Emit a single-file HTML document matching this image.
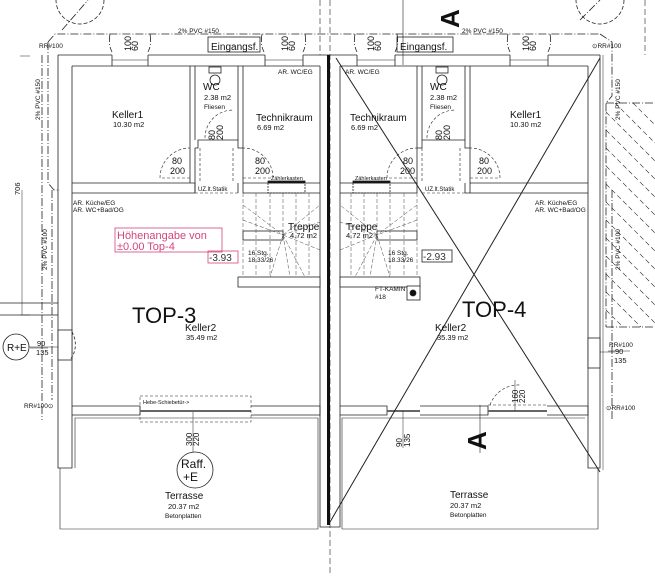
<!DOCTYPE html>
<html><head><meta charset="utf-8"><style>
html,body{margin:0;padding:0;background:#fff;}
svg{display:block;}
text{font-family:"Liberation Sans",sans-serif;fill:#111;}
.s{font-size:6.5px;}
.m{font-size:7.5px;}
.b{font-size:10px;}
</style></head><body>
<svg width="655" height="576" viewBox="0 0 655 576" xmlns="http://www.w3.org/2000/svg">
<rect width="655" height="576" fill="#fff"/>
<g fill="none" stroke="#222" stroke-width="0.8">
<g stroke-dasharray="8,2,1,2" stroke-width="0.8">
<path d="M48,42 L55,34 L600,34"/>
<path d="M48,42 L48,183 L54,190 L60,190"/>
<path d="M52,190 L52,400"/>
<path d="M600,34 L612,42 L612,96 L606,103 L606,327"/>
<path d="M606,103 L655,103"/><path d="M606,327 L655,327"/>
<path d="M612,190 L612,420"/>
<path d="M42,55 L42,420"/>
<path d="M110,34 Q108,44 112,52"/><path d="M150,34 Q152,44 148,52"/>
<path d="M262,34 Q260,44 264,52"/><path d="M305,34 Q307,44 303,52"/>
<path d="M355,34 Q353,44 357,52"/><path d="M397,34 Q399,44 395,52"/>
<path d="M508,34 Q506,44 510,52"/><path d="M550,34 Q552,44 548,52"/>
<path d="M62,30 L88,0"/><path d="M580,20 L600,0"/>
</g>
<circle cx="80" cy="0" r="24" stroke-dasharray="4,2"/>
<circle cx="600" cy="0" r="24" stroke-dasharray="4,2"/>
<g stroke-dasharray="5,3" stroke-width="0.6">
<path d="M615,103 L655,143"/><path d="M633,103 L655,125"/><path d="M606,112 L655,161"/>
<path d="M606,130 L655,179"/><path d="M606,148 L655,197"/><path d="M606,166 L655,215"/>
<path d="M606,184 L655,233"/><path d="M606,202 L655,251"/><path d="M606,220 L655,269"/>
<path d="M606,238 L655,287"/><path d="M606,256 L655,305"/><path d="M606,274 L655,323"/>
<path d="M606,292 L641,327"/><path d="M606,310 L623,327"/>
</g>
<path d="M330,0 L330,576" stroke-dasharray="6,3" stroke-width="0.6"/>
<path d="M320,0 L320,55" stroke-dasharray="6,3" stroke-width="0.6"/>
<path d="M645,0 L645,55" stroke-dasharray="6,3" stroke-width="0.6"/>
<path d="M403,0 L403,65" stroke-width="0.6"/>
<path d="M480,405 L480,453" stroke-width="0.6"/>
<path d="M58,55 L58,468 L72,468 L72,66"/>
<path d="M58,55 L112,55 M148,55 L265,55 M303,55 L357,55 M395,55 L510,55 M548,55 L600,55"/>
<path d="M72,66 L320,66 M340,66 L588,66"/>
<path d="M112,55 L112,66 M148,55 L148,66 M265,55 L265,66 M303,55 L303,66 M357,55 L357,66 M395,55 L395,66 M510,55 L510,66 M548,55 L548,66"/>
<path d="M112,60 L148,60 M265,60 L303,60 M357,60 L395,60 M510,60 L548,60" stroke-width="0.5"/>
<path d="M600,55 L600,468 L588,468 L588,66"/>
<path d="M603,55 L603,470" stroke-width="0.5"/>
<path d="M320,66 L320,527 L340,527 L340,66"/>
<rect x="327" y="55" width="3" height="470" fill="#111" stroke="none"/>
<rect x="58" y="330" width="14" height="30" fill="#fff" stroke="#222"/>
<path d="M72,332 A25,25 0 0 1 70,360" stroke-dasharray="3,2"/>
<rect x="588" y="338" width="12" height="30" fill="#fff" stroke="#222"/>
<path d="M0,303 L58,303 M0,315 L58,315"/>
<path d="M22,190 L22,315" stroke-width="0.5"/>
<path d="M20,56 L30,56 M20,315 L30,315" stroke-width="0.5"/>
<path d="M72,183 L190,183 L190,66 M72,193 L195,193 L195,148 L198,148 L198,140 L238,140 L238,148 L243,148 L243,183 L320,183 M243,193 L320,193 M190,183 L195,183"/>
<path d="M195,66 L195,140 M238,66 L238,140 M243,66 L243,148"/>
<path d="M340,183 L417,183 L417,148 L422,148 L422,140 L465,140 L465,148 L470,148 L470,183 L588,183 M340,193 L417,193 M465,193 L588,193 M470,66 L470,183 M422,66 L422,140 M465,66 L465,140 M417,66 L417,148"/>
<path d="M465,183 L465,193 M470,183 L470,193 M417,183 L417,193 M195,183 L195,193 M238,183 L238,193 M243,183 L243,193"/>
<path d="M195,193 L238,193 M422,193 L465,193" stroke-dasharray="3,2" stroke-width="0.5"/>
<g stroke-dasharray="3,2" stroke-width="0.6">
<path d="M190,178 L160,178 A30,30 0 0 1 190,148"/>
<path d="M243,178 L273,178 A30,30 0 0 0 243,148"/>
<path d="M205,138 A28,28 0 0 1 233,110"/>
<path d="M417,178 L387,178 A30,30 0 0 1 417,148"/>
<path d="M470,178 L500,178 A30,30 0 0 0 470,148"/>
<path d="M427,138 A28,28 0 0 1 455,110"/>
<path d="M490,405 A30,30 0 0 1 520,385"/>
<path d="M200,148 L200,183 M233,148 L233,183 M422,148 L422,183 M460,148 L460,183"/>
</g>
<rect x="268" y="182" width="37" height="11" stroke-dasharray="2,1"/>
<rect x="268" y="181" width="37" height="2" fill="#111"/>
<rect x="353" y="182" width="37" height="11" stroke-dasharray="2,1"/>
<rect x="353" y="181" width="37" height="2" fill="#111"/>
<circle cx="215" cy="80" r="5"/><rect x="209" y="67" width="12" height="6"/>
<circle cx="442" cy="80" r="5"/><rect x="436" y="67" width="12" height="6"/>
<rect x="243" y="231" width="40" height="9" fill="#fff"/>
<rect x="238" y="277" width="82" height="10" fill="#fff"/>
<rect x="377" y="231" width="40" height="9" fill="#fff"/>
<rect x="340" y="277" width="80" height="10" fill="#fff"/>
<rect x="407" y="286" width="13" height="14" fill="#fff"/>
<circle cx="413" cy="293" r="3" fill="#111"/>
<g stroke-dasharray="4,2" stroke-width="0.5" stroke="#444">
<path d="M243,193 L243,277 M256,193 L256,277 M270,193 L270,277 M283,193 L283,231 M296,193 L296,277 M309,193 L309,277"/>
<path d="M243,205 L283,235 M243,220 L283,235 M283,235 L320,205 M283,235 L320,222 M283,235 L320,250 M283,235 L305,277 M283,235 L290,277 M283,235 L270,277"/>
<path d="M417,193 L417,277 M404,193 L404,277 M390,193 L390,277 M377,193 L377,231 M364,193 L364,277 M351,193 L351,277"/>
<path d="M417,205 L377,235 M417,220 L377,235 M377,235 L340,205 M377,235 L340,222 M377,235 L340,250 M377,235 L355,277 M377,235 L370,277 M377,235 L390,277"/>
</g>
<path d="M72,406 L140,406 L140,415 L72,415 M251,406 L320,406 L320,415 L251,415"/>
<path d="M140,411 L251,411" stroke="#666" stroke-width="2"/>
<path d="M140,396 L251,396 L251,422 L140,422 Z" stroke-dasharray="3,2" stroke-width="0.5"/>
<path d="M340,406 L387,406 L387,415 L340,415 M420,406 L488,406 L488,415 L420,415 M547,406 L588,406 L588,415 L547,415"/>
<path d="M387,411 L420,411 M488,411 L547,411" stroke="#666" stroke-width="2"/>
<path d="M488,405 L547,405" stroke-dasharray="3,2" stroke-width="0.5"/>
<path d="M60,468 L60,529 L318,529 L318,418 L75,418 L75,468" stroke-width="0.6"/>
<path d="M342,529 L598,529 L598,468 M342,529 L342,418 L585,418" stroke-width="0.6"/>
<path d="M336,58 L600,472" stroke-width="1"/>
<path d="M600,58 L330,522" stroke-width="1"/>
<path d="M193,412 L193,452 M515,380 L515,411 M403,411 L403,448" stroke-width="0.5"/>
<circle cx="16" cy="347" r="13"/>
<circle cx="195" cy="470" r="18"/>
<path d="M29,347 L58,347 M600,352 L615,352" stroke-width="0.5"/>
<path d="M30,348 L48,348 M608,351 L630,351" stroke-width="0.5"/>
<rect x="115" y="228" width="107" height="24" stroke="#d4457a"/>
<rect x="208" y="251" width="30" height="12" stroke="#d4457a"/>
<rect x="422" y="250" width="30" height="12"/>
<rect x="208" y="37" width="52" height="15"/>
<rect x="397" y="37" width="56" height="15"/>
</g>
<text x="39" y="48" class="s">RR#100</text>
<text x="592" y="48" class="s">⊙RR#100</text>
<text x="178" y="33" class="s">2% PVC #150</text>
<text x="462" y="33" class="s">2% PVC #150</text>
<text x="211" y="50" style="font-size:10px">Eingangsf.</text>
<text x="400" y="50" style="font-size:10px">Eingangsf.</text>
<g style="font-size:9px">
<text transform="translate(131,51) rotate(-90)">100</text><text transform="translate(138,51) rotate(-90)">60</text>
<text transform="translate(288,51) rotate(-90)">100</text><text transform="translate(295,51) rotate(-90)">60</text>
<text transform="translate(374,51) rotate(-90)">100</text><text transform="translate(381,51) rotate(-90)">60</text>
<text transform="translate(529,51) rotate(-90)">100</text><text transform="translate(536,51) rotate(-90)">60</text>
</g>
<text transform="translate(20,195) rotate(-90)" class="m">706</text>
<text transform="translate(40,120) rotate(-90)" class="s">2% PVC #150</text>
<text transform="translate(47,270) rotate(-90)" class="s">2% PVC #100</text>
<text transform="translate(620,120) rotate(-90)" class="s">2% PVC #150</text>
<text transform="translate(620,270) rotate(-90)" class="s">2% PVC #100</text>
<text x="112" y="118" class="b">Keller1</text><text x="113" y="127" class="m">10.30 m2</text>
<text x="203" y="90" class="b">WC</text><text x="204" y="100" class="m">2.38 m2</text><text x="204" y="109" class="s">Fliesen</text>
<text x="256" y="121" class="b">Technikraum</text><text x="257" y="130" class="m">6.69 m2</text>
<text x="278" y="74" class="s">AR. WC/EG</text>
<text x="345" y="74" class="s">AR. WC/EG</text>
<text x="350" y="121" class="b">Technikraum</text><text x="351" y="130" class="m">6.69 m2</text>
<text x="430" y="90" class="b">WC</text><text x="430" y="100" class="m">2.38 m2</text><text x="430" y="109" class="s">Fliesen</text>
<text x="510" y="118" class="b">Keller1</text><text x="510" y="127" class="m">10.30 m2</text>
<g style="font-size:9px">
<text x="172" y="164">80</text><text x="170" y="174">200</text>
<text x="255" y="164">80</text><text x="255" y="174">200</text>
<text x="403" y="164">80</text><text x="400" y="174">200</text>
<text x="479" y="164">80</text><text x="477" y="174">200</text>
<text transform="translate(215,140) rotate(-90)">80</text><text transform="translate(223,140) rotate(-90)">200</text>
<text transform="translate(442,140) rotate(-90)">80</text><text transform="translate(450,140) rotate(-90)">200</text>
</g>
<text x="198" y="191" style="font-size:6px">UZ.lt.Statik</text>
<text x="425" y="191" style="font-size:6px">UZ.lt.Statik</text>
<text x="271" y="180" style="font-size:5.5px">Zählerkasten</text>
<text x="355" y="180" style="font-size:5.5px">Zählerkasten</text>
<text x="73" y="205" class="s">AR. Küche/EG</text><text x="73" y="212" class="s">AR. WC+Bad/OG</text>
<text x="535" y="205" class="s">AR. Küche/EG</text><text x="535" y="212" class="s">AR. WC+Bad/OG</text>
<text x="117" y="239" style="font-size:11px;fill:#d4457a">Höhenangabe von</text>
<text x="117" y="250" style="font-size:11px;fill:#d4457a">±0.00 Top-4</text>
<text x="209" y="261" style="font-size:10px;fill:#333">-3.93</text>
<text x="423" y="260" style="font-size:10px;fill:#333">-2.93</text>
<text x="288" y="230" class="b">Treppe</text><text x="290" y="238" class="m">4.72 m2</text>
<text x="346" y="230" class="b">Treppe</text><text x="346" y="238" class="m">4.72 m2</text>
<text x="248" y="255" class="s">16 Stg.</text><text x="248" y="262" class="s">18.33/26</text>
<text x="388" y="255" class="s">16 Stg.</text><text x="388" y="262" class="s">18.33/26</text>
<text x="375" y="291" class="s">FT-KAMIN</text><text x="375" y="299" class="s">#18</text>
<text x="132" y="323" style="font-size:22px">TOP-3</text>
<text x="462" y="317" style="font-size:22px">TOP-4</text>
<text x="185" y="331" class="b">Keller2</text><text x="186" y="340" class="m">35.49 m2</text>
<text x="435" y="331" class="b">Keller2</text><text x="437" y="340" class="m">35.39 m2</text>
<text x="7" y="351" style="font-size:10px">R+E</text>
<text x="37" y="346" class="m">90</text><text x="36" y="355" class="m">135</text>
<text x="615" y="354" class="m">90</text><text x="614" y="363" class="m">135</text>
<text x="609" y="347" class="s">RR#100</text>
<text x="24" y="408" class="s">RR#100⊙</text>
<text x="606" y="410" class="s">⊙RR#100</text>
<text x="143" y="404" style="font-size:5.5px">Hebe-Schiebetür-&gt;</text>
<text transform="translate(192,446) rotate(-90)" style="font-size:8px">300</text>
<text transform="translate(199,446) rotate(-90)" style="font-size:8px">220</text>
<text transform="translate(518,403) rotate(-90)" style="font-size:8px">160</text>
<text transform="translate(525,403) rotate(-90)" style="font-size:8px">220</text>
<text transform="translate(402,447) rotate(-90)" style="font-size:8px">90</text>
<text transform="translate(410,447) rotate(-90)" style="font-size:8px">135</text>
<text x="181" y="468" style="font-size:12px">Raff.</text><text x="183" y="481" style="font-size:12px">+E</text>
<text x="165" y="499" class="b">Terrasse</text><text x="168" y="509" class="m">20.37 m2</text><text x="165" y="518" class="s">Betonplatten</text>
<text x="450" y="498" class="b">Terrasse</text><text x="450" y="508" class="m">20.37 m2</text><text x="450" y="517" class="s">Betonplatten</text>
<text transform="translate(459,28) rotate(-90)" style="font-size:26px;font-weight:bold">A</text>
<text transform="translate(486,450) rotate(-90)" style="font-size:26px;font-weight:bold">A</text>
</svg>
</body></html>
